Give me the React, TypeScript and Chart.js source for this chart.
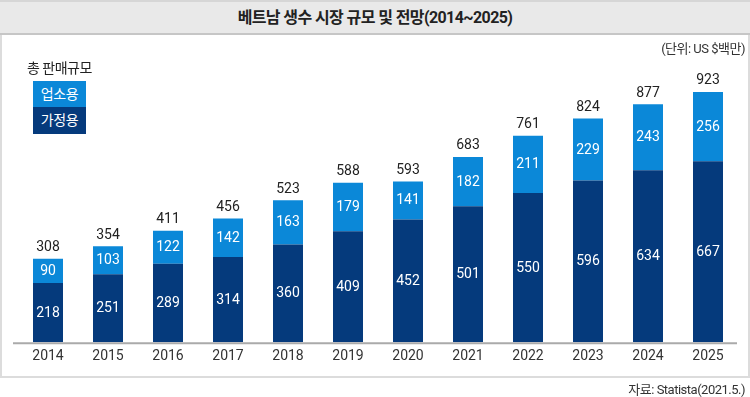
import React, { useEffect, useRef } from "react";
import { Chart, registerables } from "chart.js";

Chart.register(...registerables);

const years = ["2014", "2015", "2016", "2017", "2018", "2019", "2020", "2021", "2022", "2023", "2024", "2025"];
const household = [218, 251, 289, 314, 360, 409, 452, 501, 550, 596, 634, 667];
const foodService = [90, 103, 122, 142, 163, 179, 141, 182, 211, 229, 243, 256];
const totals = [308, 354, 411, 456, 523, 588, 593, 683, 761, 824, 877, 923];

const LIGHT = "#0b88d8";
const DARK = "#053a7c";
const FONT = "Roboto, 'Noto Sans CJK KR', sans-serif";

const labelPlugin = {
  id: "valueLabels",
  afterDatasetsDraw(chart: any) {
    const ctx = chart.ctx;
    ctx.save();
    ctx.font = `14px ${FONT}`;
    ctx.textAlign = "center";
    ctx.textBaseline = "middle";
    ctx.fillStyle = "#ffffff";
    chart.data.datasets.forEach((ds: any, di: number) => {
      const meta = chart.getDatasetMeta(di);
      meta.data.forEach((bar: any, i: number) => {
        const props = bar.getProps(["x", "y", "base"], true);
        const cy = (props.y + props.base) / 2;
        ctx.fillText(String(ds.data[i]), props.x, cy + 0.5);
      });
    });
    const topMeta = chart.getDatasetMeta(1);
    ctx.fillStyle = "#222222";
    ctx.textBaseline = "bottom";
    topMeta.data.forEach((bar: any, i: number) => {
      const props = bar.getProps(["x", "y"], true);
      ctx.fillText(String(totals[i]), props.x, props.y - 4);
    });
    // axis line
    const a = chart.chartArea;
    ctx.strokeStyle = "#aaaaaa";
    ctx.lineWidth = 2;
    ctx.beginPath();
    ctx.moveTo(a.left - 5, a.bottom + 1);
    ctx.lineTo(a.right - 1, a.bottom + 1);
    ctx.stroke();
    ctx.restore();
  },
};

export default function App() {
  const ref = useRef<HTMLCanvasElement | null>(null);

  useEffect(() => {
    document.body.style.margin = "0";
    if (!ref.current) return;
    const chart = new Chart(ref.current, {
      type: "bar",
      data: {
        labels: years,
        datasets: [
          {
            label: "가정용",
            data: household,
            backgroundColor: DARK,
            barPercentage: 0.5,
            categoryPercentage: 1,
          },
          {
            label: "업소용",
            data: foodService,
            backgroundColor: LIGHT,
            barPercentage: 0.5,
            categoryPercentage: 1,
          },
        ],
      },
      options: {
        animation: false,
        responsive: false,
        maintainAspectRatio: false,
        layout: { padding: { left: 18, right: 12, top: 71, bottom: 26 } },
        plugins: {
          legend: { display: false },
          title: { display: false },
          tooltip: { enabled: false },
        },
        scales: {
          x: {
            stacked: true,
            grid: { display: false, drawTicks: false },
            border: { display: false },
            ticks: {
              color: "#333333",
              font: { family: FONT, size: 14 },
              padding: 6,
            },
          },
          y: {
            stacked: true,
            display: false,
            min: 0,
            max: 1000,
          },
        },
      },
      plugins: [labelPlugin],
    });
    return () => chart.destroy();
  }, []);

  return (
    <div style={{ position: "relative", width: 750, height: 397, background: "#fff", fontFamily: FONT, overflow: "hidden" }}>
      <div
        style={{
          position: "absolute",
          left: 0,
          top: 0,
          width: 750,
          height: 31,
          background: "#e9e9e9",
          borderTop: "2px solid #d6d6d6",
          borderBottom: "2px solid #c6c6c6",
          textAlign: "center",
          lineHeight: "31px",
          fontSize: 16,
          fontWeight: 700,
          color: "#222",
          letterSpacing: -0.6,
        }}
      >
        베트남 생수 시장 규모 및 전망(2014~2025)
      </div>
      <div
        style={{
          position: "absolute",
          left: 0,
          top: 35,
          width: 746,
          height: 341,
          borderLeft: "2px solid #dcdcdc",
          borderRight: "2px solid #dcdcdc",
          borderBottom: "2px solid #dcdcdc",
        }}
      />
      <canvas ref={ref} width={750} height={397} style={{ position: "absolute", left: 0, top: 0, width: 750, height: 397 }} />
      <div style={{ position: "absolute", right: 5, top: 38, fontSize: 13, color: "#333", letterSpacing: -0.5 }}>(단위: US $백만)</div>
      <div style={{ position: "absolute", left: 27, top: 57, fontSize: 14, color: "#222", letterSpacing: -0.5 }}>총 판매규모</div>
      <div
        style={{
          position: "absolute",
          left: 33,
          top: 81,
          width: 53,
          height: 26,
          background: LIGHT,
          color: "#fff",
          fontSize: 14,
          lineHeight: "26px",
          textAlign: "center",
          letterSpacing: -0.3,
        }}
      >
        업소용
      </div>
      <div
        style={{
          position: "absolute",
          left: 33,
          top: 107,
          width: 53,
          height: 27,
          background: DARK,
          color: "#fff",
          fontSize: 14,
          lineHeight: "27px",
          textAlign: "center",
          letterSpacing: -0.3,
        }}
      >
        가정용
      </div>
      <div style={{ position: "absolute", right: 5, top: 379, fontSize: 13, color: "#333", letterSpacing: -0.5 }}>자료: Statista(2021.5.)</div>
    </div>
  );
}
